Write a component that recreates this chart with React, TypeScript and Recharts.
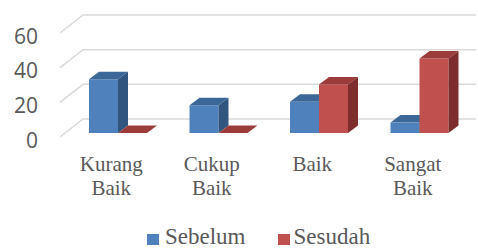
import React from 'react';
import { BarChart, Bar, XAxis, YAxis, CartesianGrid, Legend } from 'recharts';

const categories = ['Kurang Baik', 'Cukup Baik', 'Baik', 'Sangat Baik'];
const sebelum = [31, 16, 18, 6];
const sesudah = [0, 0, 28, 43];
const yTicks = [0, 20, 40, 60];

const data = categories.map((name, i) => ({ name, sebelum: sebelum[i], sesudah: sesudah[i] }));

// depth offset of the fake 3D extrusion
const DX = 10;
const DY = 7.5;

const SERIF = "'Liberation Serif', serif";

const COLORS = {
  sebelum: { front: '#4F81BD', top: '#3C6899', side: '#30557F' },
  sesudah: { front: '#C0504D', top: '#9C3C3A', side: '#7D2E2C' },
};

const Bar3D = (props: any) => {
  const { x, y, width, height, palette } = props;
  const w = width;
  const h = Math.max(height, 0);
  return (
    <g>
      <rect x={x} y={y} width={w} height={h} fill={palette.front} />
      <polygon
        points={`${x},${y} ${x + DX},${y - DY} ${x + w + DX},${y - DY} ${x + w},${y}`}
        fill={palette.top}
      />
      <polygon
        points={`${x + w},${y} ${x + w + DX},${y - DY} ${x + w + DX},${y + h - DY} ${x + w},${y + h}`}
        fill={palette.side}
      />
    </g>
  );
};

// floor + back wall grid lines
const gridLine = (p: any) => {
  const { x1, x2, y1 } = p;
  return (
    <polyline
      key={p.key}
      points={`${x1 - 8},${y1 + 4} ${x1 + 15},${y1 - 14} ${x2 + 6},${y1 - 14}`}
      fill="none"
      stroke="#D9D9D9"
      strokeWidth={1.5}
    />
  );
};

const YTick = ({ y, payload }: any) => (
  <text
    x={38}
    y={y + 6.5}
    textAnchor="end"
    dominantBaseline="central"
    fill="#595959"
    style={{ fontFamily: 'Open Sans', fontSize: 21 }}
  >
    {payload.value}
  </text>
);

const XTick = ({ x, y, payload }: any) => {
  const lines = String(payload.value).split(' ');
  return (
    <text textAnchor="middle" fill="#595959" style={{ fontFamily: SERIF, fontSize: 21 }}>
      {lines.map((l, i) => (
        <tspan key={i} x={x - 7} y={y + 38 + i * 24}>
          {l}
        </tspan>
      ))}
    </text>
  );
};

const LegendContent = () => (
  <div style={{ display: 'flex', alignItems: 'flex-end', paddingLeft: 147, fontFamily: SERIF, fontSize: 23, color: '#595959', lineHeight: '23px' }}>
    <span style={{ display: 'inline-block', width: 12, height: 11, background: COLORS.sebelum.front, marginRight: 6, marginBottom: 3 }} />
    <span style={{ marginRight: 32 }}>Sebelum</span>
    <span style={{ display: 'inline-block', width: 12, height: 11, background: COLORS.sesudah.front, marginRight: 4, marginBottom: 3 }} />
    <span>Sesudah</span>
  </div>
);

export default function App() {
  return (
    <div style={{ position: 'absolute', left: 0, top: 0, width: 478, height: 250, background: '#fff' }}>
      <BarChart
        width={478}
        height={250}
        data={data}
        margin={{ top: 29, right: 8, left: 0, bottom: 0 }}
        barSize={29}
        barGap={0}
      >
        <CartesianGrid vertical={false} horizontal={gridLine} />
        <XAxis dataKey="name" axisLine={false} tickLine={false} tickSize={0} tickMargin={0} height={117} tick={<XTick />} interval={0} />
        <YAxis domain={[0, 60]} ticks={yTicks} axisLine={false} tickLine={false} tickSize={0} width={68} tick={<YTick />} />
        <Legend
          layout="horizontal"
          verticalAlign="middle"
          align="center"
          wrapperStyle={{ top: 225, left: 0, width: 478 }}
          content={<LegendContent />}
        />
        <Bar dataKey="sebelum" isAnimationActive={false} shape={<Bar3D palette={COLORS.sebelum} />} />
        <Bar dataKey="sesudah" isAnimationActive={false} shape={<Bar3D palette={COLORS.sesudah} />} />
      </BarChart>
    </div>
  );
}
